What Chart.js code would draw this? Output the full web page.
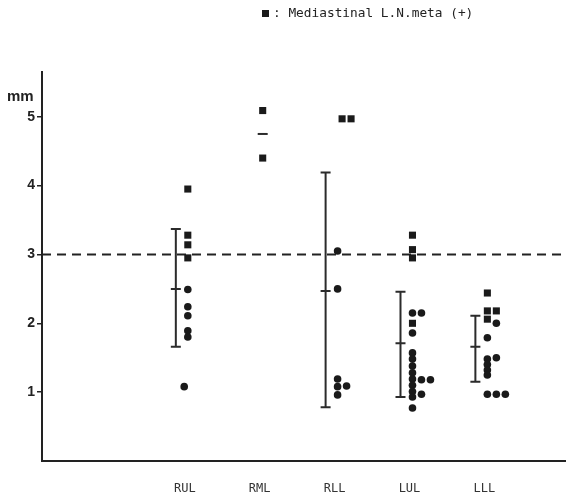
<!DOCTYPE html>
<html>
<head>
<meta charset="utf-8">
<script src="https://cdn.jsdelivr.net/npm/chart.js@4.4.1/dist/chart.umd.min.js"></script>
<style>
  html, body { margin: 0; padding: 0; background: #fff; }
  canvas { display: block; }
</style>
</head>
<body>
<canvas id="lnChart" width="566" height="499"></canvas>
<script>
// lobes on the x axis
const lobes = ["RUL", "RML", "RLL", "LUL", "LLL"];
const yTicks = [1, 2, 3, 4, 5];
const cutoff = 3;

// mediastinal L.N. meta (+) : [lobe index, mm, column]
const metaPos = [
  [0, 3.95, 0], [0, 3.28, 0], [0, 3.14, 0], [0, 2.95, 0],
  [1, 5.09, 0], [1, 4.40, 0],
  [2, 4.97, 0.5], [2, 4.97, 1.5],
  [3, 3.28, 0], [3, 3.07, 0], [3, 2.95, 0], [3, 2.00, 0],
  [4, 2.44, 0], [4, 2.18, 0], [4, 2.18, 1], [4, 2.06, 0]
];
// meta (-)
const metaNeg = [
  [0, 2.49, 0], [0, 2.24, 0], [0, 2.11, 0], [0, 1.89, 0], [0, 1.80, 0], [0, 1.08, -0.4],
  [2, 3.05, 0], [2, 2.50, 0], [2, 1.19, 0], [2, 1.08, 0], [2, 0.96, 0], [2, 1.09, 1],
  [3, 2.15, 0], [3, 2.15, 1], [3, 1.86, 0], [3, 1.57, 0], [3, 1.48, 0], [3, 1.38, 0],
  [3, 1.28, 0], [3, 1.19, 0], [3, 1.10, 0], [3, 1.01, 0], [3, 0.93, 0],
  [3, 1.18, 1], [3, 1.18, 2], [3, 0.97, 1], [3, 0.77, 0],
  [4, 2.00, 1], [4, 1.79, 0], [4, 1.50, 1], [4, 1.48, 0], [4, 1.40, 0], [4, 1.32, 0],
  [4, 1.25, 0], [4, 0.97, 0], [4, 0.97, 1], [4, 0.97, 2]
];
// mean and range per lobe (null = no range bar)
const barLow  = [1.66, null, 0.78, 0.93, 1.15];
const barMean = [2.50, 4.75, 2.47, 1.71, 1.66];
const barHigh = [3.37, null, 4.19, 2.46, 2.11];

const legendText = ": Mediastinal L.N.meta (+)";
const unitText = "mm";

const X_MIN = -0.907, X_MAX = 6.09;
const toPoint = p => ({ x: p[0] + 1 + 0.04 + p[2] * 0.12, y: p[1] });

const rangeBars = {
  id: 'rangeBars',
  afterDatasetsDraw(chart) {
    const { ctx, scales: { x, y } } = chart;
    ctx.save();
    ctx.strokeStyle = '#2b2b2b';
    ctx.lineWidth = 2;
    lobes.forEach((name, i) => {
      const hasBar = barLow[i] !== null;
      const px = x.getPixelForValue(i + 1 + (hasBar ? -0.12 : 0.04));
      const cap = 5;
      ctx.beginPath();
      if (hasBar) {
        const top = y.getPixelForValue(barHigh[i]);
        const bot = y.getPixelForValue(barLow[i]);
        ctx.moveTo(px, top); ctx.lineTo(px, bot);
        ctx.moveTo(px - cap, top); ctx.lineTo(px + cap, top);
        ctx.moveTo(px - cap, bot); ctx.lineTo(px + cap, bot);
      }
      const m = y.getPixelForValue(barMean[i]);
      ctx.moveTo(px - cap, m); ctx.lineTo(px + cap, m);
      ctx.stroke();
    });
    ctx.restore();
  },
  afterDraw(chart) {
    const { ctx, scales: { y } } = chart;
    ctx.save();
    // unit label above the axis
    ctx.fillStyle = '#222';
    ctx.font = 'bold 15px "Liberation Sans", Arial, sans-serif';
    ctx.textAlign = 'left';
    ctx.textBaseline = 'middle';
    ctx.fillText(unitText, 7, y.getPixelForValue(5) - 20);
    // legend
    ctx.fillStyle = '#1a1a1a';
    ctx.fillRect(262, 10, 7, 7);
    ctx.font = '12.8px "DejaVu Sans Mono", monospace';
    ctx.fillStyle = '#222';
    ctx.fillText(legendText, 273, 14);
    ctx.restore();
  }
};

const ctx = document.getElementById('lnChart');
new Chart(ctx, {
  type: 'scatter',
  data: {
    datasets: [
      {
        label: 'meta (+)',
        data: metaPos.map(toPoint),
        pointStyle: 'rect',
        pointRadius: 5,
        backgroundColor: '#1a1a1a',
        borderColor: '#1a1a1a',
        borderWidth: 0,
        order: 1
      },
      {
        label: 'meta (-)',
        data: metaNeg.map(toPoint),
        pointStyle: 'circle',
        pointRadius: 3.8,
        backgroundColor: '#1a1a1a',
        borderColor: '#1a1a1a',
        borderWidth: 0,
        order: 2
      },
      {
        type: 'line',
        label: 'cutoff',
        data: [{ x: X_MIN, y: cutoff }, { x: X_MAX, y: cutoff }],
        borderColor: '#222',
        borderWidth: 2,
        borderDash: [9, 6],
        pointRadius: 0,
        order: 3
      }
    ]
  },
  options: {
    responsive: false,
    animation: false,
    devicePixelRatio: 1,
    layout: { autoPadding: false, padding: { top: 72, right: 0, left: 0, bottom: 0 } },
    plugins: {
      legend: { display: false },
      tooltip: { enabled: false }
    },
    scales: {
      x: {
        type: 'linear',
        min: X_MIN,
        max: X_MAX,
        afterBuildTicks: axis => { axis.ticks = lobes.map((n, i) => ({ value: i + 1 })); },
        afterFit: axis => { axis.height = 38; },
        grid: { display: false, drawTicks: false },
        border: { display: true, color: '#222', width: 2 },
        ticks: {
          autoSkip: false,
          maxRotation: 0,
          padding: 21,
          color: '#333',
          font: { family: '"DejaVu Sans Mono", monospace', size: 12 },
          callback: v => lobes[Math.round(v) - 1] || ''
        }
      },
      y: {
        min: 0,
        max: 5.65,
        afterBuildTicks: axis => { axis.ticks = yTicks.map(v => ({ value: v })); },
        afterFit: axis => { axis.width = 42; },
        grid: { drawOnChartArea: false, drawTicks: true, tickLength: 5, color: '#222', lineWidth: 1.5 },
        border: { display: true, color: '#222', width: 2 },
        ticks: {
          padding: 2,
          color: '#222',
          font: { family: '"Liberation Sans", Arial, sans-serif', size: 14, weight: 'bold' }
        }
      }
    }
  },
  plugins: [rangeBars]
});
</script>
</body>
</html>
